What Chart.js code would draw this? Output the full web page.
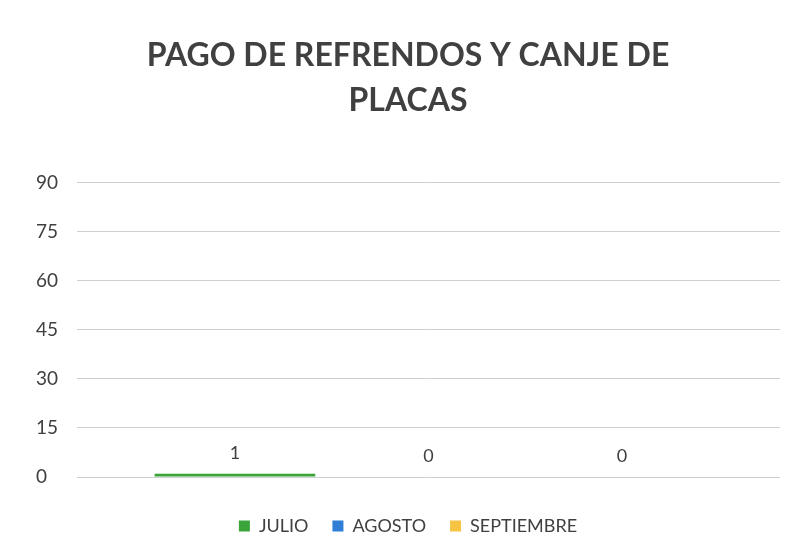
<!DOCTYPE html>
<html>
<head>
<meta charset="utf-8">
<script src="https://cdn.jsdelivr.net/npm/chart.js@4"></script>
<style>
html,body{margin:0;padding:0;background:#fff;}
#wrap{width:796px;height:554px;position:relative;}
</style>
</head>
<body>
<div id="wrap"><canvas id="c" width="796" height="554"></canvas></div>
<script>
const categories = [""];
const seriesNames = ["JULIO", "AGOSTO", "SEPTIEMBRE"];
const julio = [1];
const agosto = [0];
const septiembre = [0];
const yTicks = [0, 15, 30, 45, 60, 75, 90];
const colors = ["#3aa33a", "#2f7fd6", "#f6c343"];

const FONT = 'Lato, "Open Sans", sans-serif';

const valueLabels = {
  id: 'valueLabels',
  afterDatasetsDraw(chart) {
    const ctx = chart.ctx;
    ctx.save();
    ctx.font = '18px ' + FONT;
    ctx.fillStyle = '#404040';
    ctx.textAlign = 'center';
    ctx.textBaseline = 'bottom';
    chart.data.datasets.forEach((ds, i) => {
      const meta = chart.getDatasetMeta(i);
      meta.data.forEach((bar, j) => {
        ctx.fillText(String(ds.data[j]), bar.x, bar.y - 12);
      });
    });
    ctx.restore();
  }
};

new Chart(document.getElementById('c'), {
  type: 'bar',
  data: {
    labels: categories,
    datasets: [
      { label: seriesNames[0], data: julio, backgroundColor: colors[0] },
      { label: seriesNames[1], data: agosto, backgroundColor: colors[1] },
      { label: seriesNames[2], data: septiembre, backgroundColor: colors[2] }
    ]
  },
  options: {
    responsive: false,
    animation: false,
    layout: { padding: { left: 36, right: 16, top: 33, bottom: 9 } },
    datasets: { bar: { barPercentage: 0.83, categoryPercentage: 0.826 } },
    plugins: {
      title: {
        display: true,
        text: ["PAGO DE REFRENDOS Y CANJE DE", "PLACAS"],
        color: '#404040',
        font: { family: FONT, size: 32, weight: 'bold', lineHeight: 1.4 },
        padding: { top: 0, bottom: 60 }
      },
      legend: {
        position: 'bottom',
        labels: {
          color: '#404040',
          boxWidth: 11, boxHeight: 11,
          font: { family: FONT, size: 18 },
          padding: 24
        }
      },
      tooltip: { enabled: false }
    },
    scales: {
      x: {
        afterFit(scale) { scale.height = 16; },
        grid: { display: false },
        border: { display: false },
        ticks: { display: false }
      },
      y: {
        min: 0, max: 90,
        afterFit(scale) { scale.width = 41; },
        afterBuildTicks(scale) { scale.ticks = yTicks.map(v => ({ value: v })); },
        grid: { color: '#cfcfcf', drawTicks: false },
        border: { display: false },
        ticks: {
          color: '#404040',
          padding: 0,
          crossAlign: 'far',
          font: { family: FONT, size: 19 }
        }
      }
    }
  },
  plugins: [valueLabels]
});
</script>
</body>
</html>
